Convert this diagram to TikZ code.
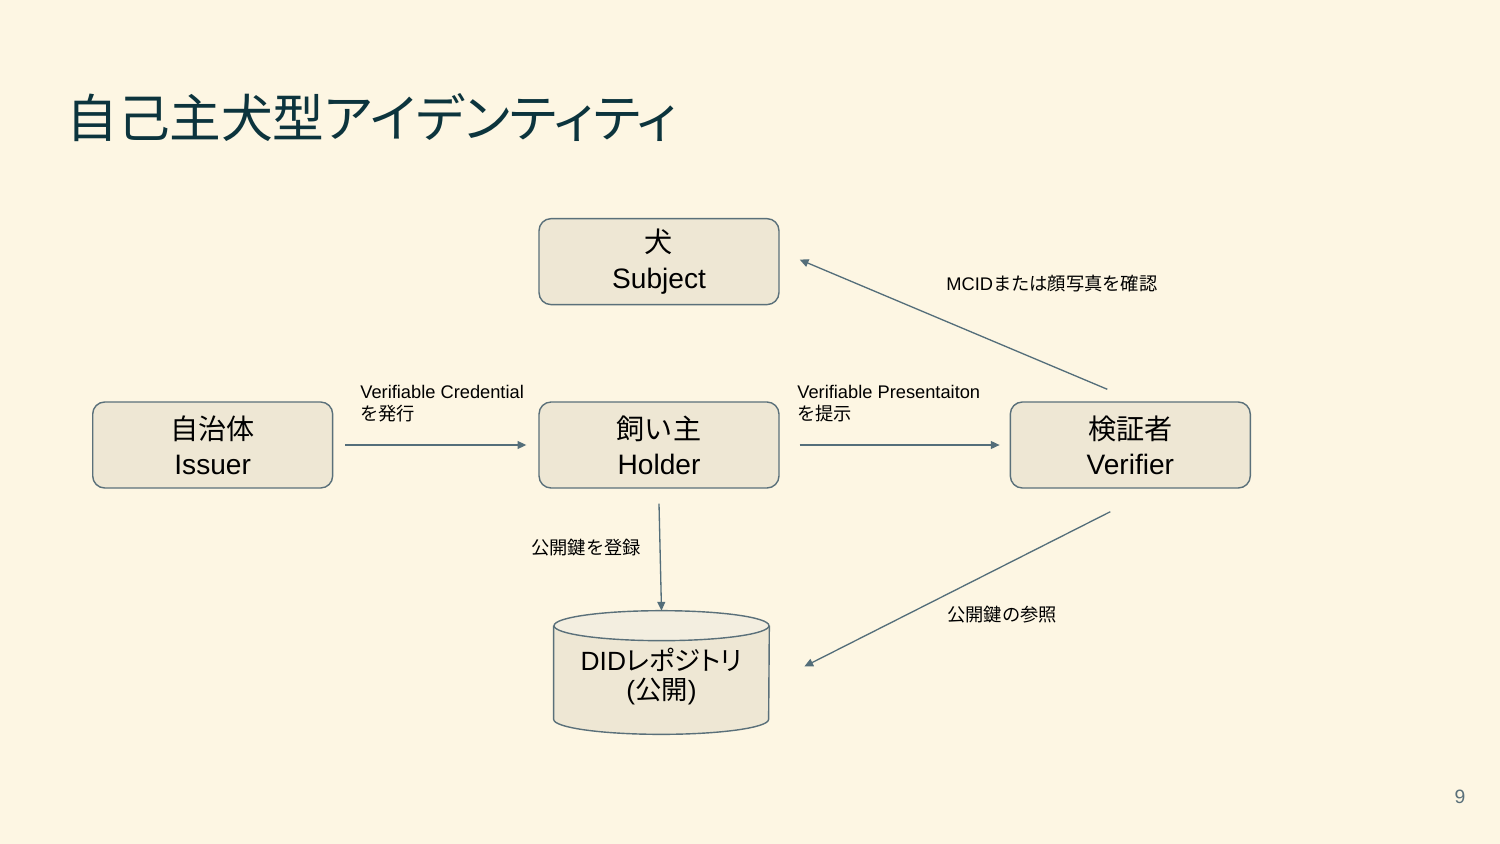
\documentclass[tikz,border=0pt]{standalone}
\usepackage{fontspec}
\setmainfont{Liberation Sans}
\newfontfamily\jp{Noto Sans CJK JP}
\newfontfamily\jpp[RawFeature=+palt]{Noto Sans CJK JP}
\usetikzlibrary{arrows.meta, positioning, calc, backgrounds}
\definecolor{bgpage}{RGB}{253,246,227}
\definecolor{boxfill}{RGB}{238,231,212}
\definecolor{boxtop}{RGB}{243,238,224}
\definecolor{boxline}{RGB}{90,112,122}
\definecolor{arrline}{RGB}{84,110,122}
\definecolor{titlecol}{RGB}{12,52,61}
\definecolor{pagenum}{RGB}{90,112,122}
\tikzset{
  actor/.style={
    rectangle, rounded corners=0.24cm, minimum width=4.8cm,
    minimum height=1.72cm, align=center,
    draw=boxline, fill=boxfill, line width=0.8pt,
    font=\fontsize{16}{20}\selectfont
  },
  arr/.style={-{Triangle[length=5pt,width=4.5pt]}, draw=arrline, line width=0.75pt},
  lbl/.style={font=\fontsize{10.4}{12.5}\selectfont, align=left,
              anchor=west, inner sep=0pt}
}

\begin{document}
\begin{tikzpicture}[x=0.02cm, y=-0.02cm]

  \begin{scope}[on background layer]
    \fill[bgpage] (0,0) rectangle (1500,844);
  \end{scope}
  \useasboundingbox (0,0) rectangle (1500,844);

  \node[anchor=west, inner sep=0pt, text=titlecol,
        font=\jpp\fontsize{29.4}{34}\selectfont] (title) at (66,118)
       {自己主犬型アイデンティティ};

  \node[actor] (hol) at (659,445) {{\jp 飼い主}\\Holder};
  \node[actor, left=4.1cm of hol] (iss) {{\jp 自治体}\\Issuer};
  \node[actor, above=1.92cm of hol] (subj) {{\jp 犬}\\Subject};
  \node[actor, right=4.6cm of hol] (ver) {{\jp 検証者}\\Verifier};

  %% DID repository (cylinder)
  \node[minimum width=4.3cm, minimum height=2.46cm, align=center,
        font=\fontsize{15}{16.5}\selectfont,
        below=2.44cm of hol, xshift=0.05cm] (repo)
       {\rule{0pt}{0.6cm}DID{\jpp レポジトリ}\\({\jp 公開})};
  \begin{scope}[on background layer]
    \filldraw[fill=boxfill, draw=boxline, line width=0.8pt]
      ($(repo.north west)+(0,15)$) -- ($(repo.south west)+(0,-15)$)
      arc (180:360:2.15cm and 0.3cm) -- ($(repo.north east)+(0,15)$);
    \filldraw[fill=boxtop, draw=boxline, line width=0.8pt]
      ($(repo.north)+(0,15)$) ellipse (2.15cm and 0.3cm);
  \end{scope}

  %% connectors
  \draw[arr, shorten <=0.24cm, shorten >=0.24cm] (iss) -- (hol);
  \draw[arr, shorten <=0.4cm, shorten >=0.2cm] (hol) -- (ver);
  \draw[arr] ([shift={(-23,-12)}]ver.north) -- ([shift={(20,-2)}]subj.east);
  \draw[arr] ([shift={(0,15)}]hol.south) -- (repo.north);
  \draw[arr] ([shift={(-20,23)}]ver.south) -- ([shift={(35,-6)}]repo.east);

  %% labels
  \node[lbl] (vclbl) at (360,404) {Verifiable Credential\\{\jp を発行}};
  \node[lbl] (vplbl) at (797,404) {Verifiable Presentaiton\\{\jp を提示}};
  \node[lbl] (mcid) at (946,284) {MCID{\jp または顔写真を確認}};
  \node[lbl] (reg) at (531,548) {\jp 公開鍵を登録};
  \node[lbl] (ref) at (947,615) {\jp 公開鍵の参照};

  \node[text=pagenum, font=\fontsize{11}{13}\selectfont] (pg) at (1460,797) {9};

\end{tikzpicture}
\end{document}
